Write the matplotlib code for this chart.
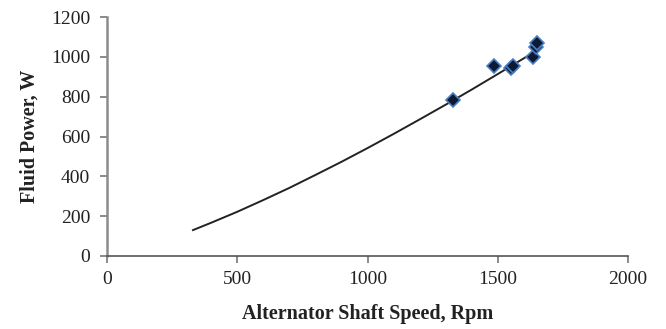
import matplotlib
matplotlib.use("Agg")
import matplotlib.pyplot as plt

# measured points (speed in rpm, power in W)
speed = [1328, 1486, 1551, 1558, 1636, 1647, 1649]
power = [783, 954, 944, 952, 999, 1050, 1068]

# trend line
trend_speed = [330, 400, 500, 600, 700, 800, 900, 1000, 1100, 1200,
               1300, 1400, 1500, 1600, 1650]
trend_power = [130, 167, 222, 281, 342, 407, 473, 542, 613, 686,
               760, 836, 914, 993, 1033]

x_ticks = [0, 500, 1000, 1500, 2000]
y_ticks = [0, 200, 400, 600, 800, 1000, 1200]

plt.rcParams['font.family'] = ['Liberation Serif', 'DejaVu Serif']

fig = plt.figure(figsize=(6.66, 3.29), dpi=100)
ax = fig.add_axes([0.1607, 0.222, 0.7823, 0.726])

ax.plot(trend_speed, trend_power, color='#222222', lw=1.4, zorder=2)
ax.plot(speed, power, 'D', color='#0d1a33', markeredgecolor='#4a7fc4',
        markeredgewidth=1.2, markersize=7, zorder=3)

ax.set_xlim(0, 2000)
ax.set_ylim(0, 1200)
ax.set_xticks(x_ticks)
ax.set_yticks(y_ticks)

for side in ['top', 'right']:
    ax.spines[side].set_visible(False)
ax.spines['left'].set_color('#8c8c8c')
ax.spines['left'].set_linewidth(1.8)
ax.spines['bottom'].set_color('#555555')
ax.spines['bottom'].set_linewidth(1.2)
ax.tick_params(axis='both', direction='out', length=5, width=1.2,
               colors='#777777', labelcolor='#222222', labelsize=14)
ax.tick_params(axis='y', pad=7)
ax.tick_params(axis='x', pad=6)

ax.set_xlabel('Alternator Shaft Speed, Rpm', fontsize=14.5, fontweight='bold',
              color='#222222', labelpad=11)
ax.set_ylabel('Fluid Power, W', fontsize=14.5, fontweight='bold',
              color='#222222', labelpad=8)

fig.savefig('out.png', dpi=100)
